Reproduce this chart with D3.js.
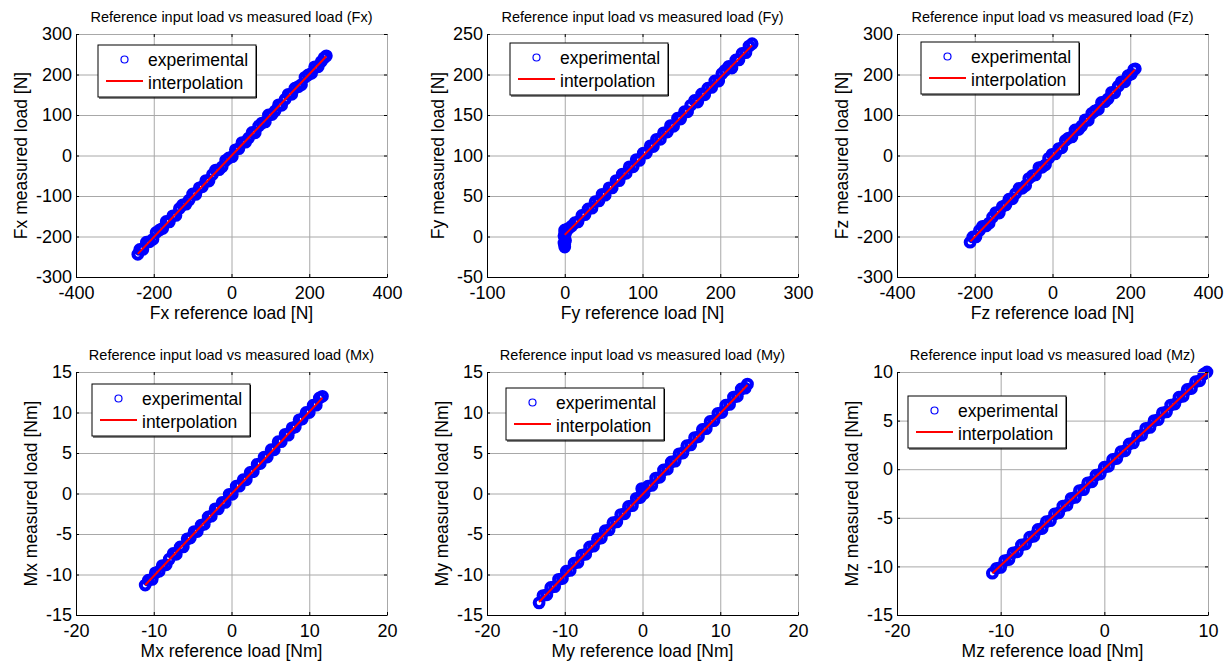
<!DOCTYPE html>
<html>
<head>
<meta charset="utf-8">
<script src="https://cdn.jsdelivr.net/npm/d3@7"></script>
<style>
body { margin: 0; background: #fff; }
svg { display: block; font-family: 'Liberation Sans', Arial, sans-serif; }
</style>
</head>
<body>
<svg width="1231" height="664"></svg>
<script>
// reference load (x) vs measured load (y)
var fxRef = [-241,-236,-228,-219,-211,-202,-194,-185,-177,-168,-160,-151,-143,-134,-126,-117,-109,-100,-92,-83,-75,-66,-58,-49,-41,-32,-24,-15,-7,2,10,19,27,36,44,53,61,70,78,87,95,104,112,121,129,138,146,155,163,172,180,189,197,206,214,223,231,238,244];
var fxMeas = [-244,-232,-232,-214,-213,-207,-190,-184,-180,-163,-164,-149,-148,-131,-122,-120,-110,-95,-96,-80,-77,-62,-63,-47,-36,-35,-28,-12,-6,-3,14,17,32,33,43,57,56,73,80,83,100,101,110,125,124,139,151,151,166,170,175,193,199,203,219,219,232,241,246];
var fxFit = [[-241, -243], [244, 245]];

var fyRef = [0,0,-1,1,0,-1,1,0,0,2,5,9,13,17,22,26,30,35,39,44,48,52,57,61,66,70,74,79,83,88,92,96,101,105,110,114,118,123,127,132,136,140,145,149,154,158,162,167,171,176,180,184,189,193,198,202,206,211,215,220,224,228,233,237,241];
var fyMeas = [-13,-10,-8,-5,-2,1,4,6,8,7,10,13,17,18,26,27,34,35,43,44,52,51,60,60,69,69,77,78,86,86,95,94,103,103,112,111,120,120,128,129,137,136,146,145,154,154,162,168,166,176,175,183,184,192,192,201,205,210,208,218,218,226,227,235,238];
var fyFit = [[0, 2], [241, 236]];

var fzRef = [-212,-205,-197,-188,-180,-171,-163,-154,-146,-137,-129,-120,-112,-103,-95,-86,-78,-69,-61,-52,-44,-35,-27,-18,-10,-1,7,16,24,33,41,50,58,67,75,84,92,101,109,118,126,135,143,152,160,169,177,186,194,203,209,213];
var fzMeas = [-214,-201,-201,-185,-175,-174,-167,-152,-141,-142,-126,-122,-108,-107,-94,-81,-81,-74,-57,-50,-48,-30,-29,-23,-7,3,4,17,19,37,43,46,63,64,73,88,87,104,110,114,131,133,140,156,155,171,182,182,197,201,212,214];
var fzFit = [[-211, -212], [212, 212]];

var mxRef = [-11.1,-10.7,-10.2,-9.8,-9.3,-8.9,-8.4,-8.0,-7.5,-7.1,-6.6,-6.2,-5.7,-5.3,-4.8,-4.4,-3.9,-3.5,-3.0,-2.6,-2.1,-1.7,-1.2,-0.8,-0.3,0.1,0.6,1.0,1.5,1.9,2.4,2.8,3.3,3.7,4.2,4.6,5.1,5.5,6.0,6.4,6.9,7.3,7.8,8.2,8.7,9.1,9.6,10.0,10.5,10.9,11.3,11.7];
var mxMeas = [-11.3,-10.7,-10.6,-9.8,-9.6,-8.9,-8.8,-8.1,-7.4,-7.5,-6.6,-6.6,-5.6,-5.5,-4.7,-4.7,-3.9,-3.8,-2.9,-2.8,-1.9,-1.9,-1.1,-1.1,-0.1,-0.1,0.9,0.9,1.7,1.7,2.6,2.7,3.6,3.7,4.5,4.5,5.4,5.4,6.4,6.4,7.3,7.2,8.1,8.2,9.1,9.2,10.0,10.0,10.9,10.9,11.8,12.0];
var mxFit = [[-11.1, -11.3], [11.7, 11.8]];

var myRef = [-13.3,-12.8,-12.3,-11.8,-11.3,-10.8,-10.3,-9.8,-9.3,-8.8,-8.3,-7.8,-7.3,-6.8,-6.3,-5.8,-5.3,-4.8,-4.3,-3.8,-3.3,-2.8,-2.3,-1.8,-1.3,-0.8,-0.3,-0.1,0.0,0.2,0.7,1.2,1.7,2.2,2.7,3.2,3.7,4.2,4.7,5.2,5.7,6.2,6.7,7.2,7.7,8.2,8.7,9.2,9.7,10.2,10.7,11.2,11.7,12.2,12.7,13.2,13.5];
var myMeas = [-13.5,-12.6,-12.5,-11.6,-11.5,-10.6,-10.5,-9.6,-9.5,-8.6,-8.5,-7.6,-7.5,-6.6,-6.5,-5.6,-5.5,-4.6,-4.5,-3.6,-3.5,-2.6,-2.5,-1.6,-1.5,-0.6,-0.5,0.6,0.2,0.0,0.9,1.0,1.9,2.0,2.9,3.0,3.9,4.0,4.9,5.0,5.9,6.0,6.9,7.0,7.9,8.0,8.9,9.0,9.9,10.0,10.9,11.0,11.9,12.0,12.9,13.0,13.5];
var myFit = [[-13.3, -13.4], [13.5, 13.4]];

var mzRef = [-10.8,-10.4,-10.0,-9.6,-9.2,-8.8,-8.4,-8.0,-7.6,-7.2,-6.8,-6.4,-6.0,-5.6,-5.2,-4.8,-4.4,-4.0,-3.6,-3.2,-2.8,-2.4,-2.0,-1.6,-1.2,-0.8,-0.4,0.0,0.4,0.8,1.2,1.6,2.0,2.4,2.8,3.2,3.6,4.0,4.4,4.8,5.2,5.6,6.0,6.4,6.8,7.2,7.6,8.0,8.4,8.8,9.2,9.6,9.9];
var mzMeas = [-10.7,-10.2,-10.1,-9.4,-9.3,-8.6,-8.5,-7.8,-7.7,-7.0,-6.9,-6.2,-6.1,-5.4,-5.3,-4.6,-4.5,-3.8,-3.7,-3.0,-2.9,-2.2,-2.1,-1.4,-1.3,-0.6,-0.5,0.2,0.3,1.0,1.1,1.8,1.9,2.6,2.7,3.4,3.5,4.2,4.3,5.0,5.1,5.8,5.9,6.6,6.7,7.4,7.5,8.2,8.3,9.0,9.1,9.8,10.0];
var mzFit = [[-10.8, -10.7], [9.9, 9.9]];

// tick labels
var forceTicks = [-400, -200, 0, 200, 400];
var forceTicksY = [-300, -200, -100, 0, 100, 200, 300];
var fyTicksX = [-100, 0, 100, 200, 300];
var fyTicksY = [-50, 0, 50, 100, 150, 200, 250];
var momentTicks = [-20, -10, 0, 10, 20];
var momentTicksY = [-15, -10, -5, 0, 5, 10, 15];
var mzTicksX = [-20, -10, 0, 10];
var mzTicksY = [-15, -10, -5, 0, 5, 10];

var names = ['Fx', 'Fy', 'Fz', 'Mx', 'My', 'Mz'];
var units = ['N', 'N', 'N', 'Nm', 'Nm', 'Nm'];
var legendLabels = ['experimental', 'interpolation'];

var panels = [
  { ref: fxRef, meas: fxMeas, fit: fxFit, xt: forceTicks, yt: forceTicksY },
  { ref: fyRef, meas: fyMeas, fit: fyFit, xt: fyTicksX, yt: fyTicksY },
  { ref: fzRef, meas: fzMeas, fit: fzFit, xt: forceTicks, yt: forceTicksY },
  { ref: mxRef, meas: mxMeas, fit: mxFit, xt: momentTicks, yt: momentTicksY },
  { ref: myRef, meas: myMeas, fit: myFit, xt: momentTicks, yt: momentTicksY },
  { ref: mzRef, meas: mzMeas, fit: mzFit, xt: mzTicksX, yt: mzTicksY }
];

// layout
var W = 311, H = 243;
var lefts = [76, 487, 897];
var tops = [34, 372];
var legendOffset = [[22, 11], [23, 9], [24, 8], [16, 12], [19, 16], [11, 24]];
var gridColor = '#a8a8a8';
var fmt = function(d) { return String(d); };  // plain hyphen minus, as in the original

var svg = d3.select('svg');

panels.forEach(function(p, i) {
  var left = lefts[i % 3], top = tops[Math.floor(i / 3)];
  var x = d3.scaleLinear().domain(d3.extent(p.xt)).range([0, W]);
  var y = d3.scaleLinear().domain(d3.extent(p.yt)).range([H, 0]);
  var g = svg.append('g').attr('transform', 'translate(' + [left, top].join(',') + ')');

  // grid
  g.append('g').attr('transform', 'translate(0,' + H + ')')
    .call(d3.axisBottom(x).tickValues(p.xt).tickSize(-H).tickFormat(''))
    .call(function(s) { s.select('.domain').remove(); s.selectAll('line').attr('stroke', gridColor); });
  g.append('g')
    .call(d3.axisLeft(y).tickValues(p.yt).tickSize(-W).tickFormat(''))
    .call(function(s) { s.select('.domain').remove(); s.selectAll('line').attr('stroke', gridColor); });

  // experimental points, drawn heavy so the dense cloud reads as one band
  g.append('g').selectAll('circle').data(p.ref).enter().append('circle')
    .attr('cx', function(d) { return x(d); })
    .attr('cy', function(d, j) { return y(p.meas[j]); })
    .attr('r', 4.4)
    .attr('fill', 'none')
    .attr('stroke', '#0000ff')
    .attr('stroke-width', 4);

  // interpolation
  g.append('path').datum(p.fit)
    .attr('d', d3.line().x(function(d) { return x(d[0]); }).y(function(d) { return y(d[1]); }))
    .attr('stroke', '#ff0000').attr('stroke-width', 2).attr('fill', 'none');

  // box: top/right grey, ticks inward
  g.append('g')
    .call(d3.axisTop(x).tickValues(p.xt).tickSizeInner(-3).tickSizeOuter(0).tickFormat(''))
    .call(function(s) { s.select('.domain').attr('stroke', gridColor); });
  g.append('g').attr('transform', 'translate(' + W + ',0)')
    .call(d3.axisRight(y).tickValues(p.yt).tickSizeInner(-3).tickSizeOuter(0).tickFormat(''))
    .call(function(s) { s.select('.domain').attr('stroke', gridColor); });

  var xa = g.append('g').attr('transform', 'translate(0,' + H + ')')
    .call(d3.axisBottom(x).tickValues(p.xt).tickSizeInner(-3).tickSizeOuter(0).tickPadding(9).tickFormat(fmt));
  var ya = g.append('g')
    .call(d3.axisLeft(y).tickValues(p.yt).tickSizeInner(-3).tickSizeOuter(0).tickPadding(4).tickFormat(fmt));
  [xa, ya].forEach(function(a) {
    a.attr('font-family', null);
    a.selectAll('text').attr('font-size', 18).attr('fill', '#000');
  });

  // title and axis labels
  g.append('text').attr('x', W / 2).attr('y', -12).attr('text-anchor', 'middle')
    .attr('font-size', 14.5).text('Reference input load vs measured load (' + names[i] + ')');
  g.append('text').attr('x', W / 2).attr('y', H + 42).attr('text-anchor', 'middle')
    .attr('font-size', 17.5).text(names[i] + ' reference load [' + units[i] + ']');
  var yl = ya.node().getBBox().x - 9;
  g.append('text').attr('transform', 'translate(' + yl + ',' + (H / 2) + ') rotate(-90)')
    .attr('text-anchor', 'middle').attr('font-size', 17.5)
    .text(names[i] + ' measured load [' + units[i] + ']');

  // legend
  var lg = g.append('g').attr('transform', 'translate(' + legendOffset[i].join(',') + ')');
  lg.append('rect').attr('width', 158).attr('height', 52).attr('fill', '#fff').attr('stroke', '#000');
  lg.append('path').attr('d', 'M158.5,1V53H1').attr('stroke', '#000').attr('fill', 'none');
  lg.append('circle').attr('cx', 26.5).attr('cy', 14.5).attr('r', 3.5)
    .attr('fill', 'none').attr('stroke', '#0000ff').attr('stroke-width', 1.2);
  lg.append('line').attr('x1', 8).attr('x2', 45).attr('y1', 36).attr('y2', 36)
    .attr('stroke', '#ff0000').attr('stroke-width', 2);
  lg.selectAll('text.lab').data(legendLabels).enter().append('text')
    .attr('class', 'lab')
    .attr('x', 50).attr('y', function(d, j) { return j ? 44 : 21; })
    .attr('font-size', 17.5).text(function(d) { return d; });
});
</script>
</body>
</html>
